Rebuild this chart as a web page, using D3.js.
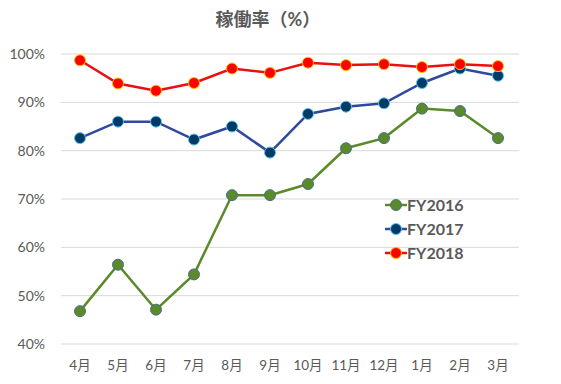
<!DOCTYPE html>
<html>
<head>
<meta charset="utf-8">
<script src="https://cdn.jsdelivr.net/npm/d3@7"></script>
<style>
  body { margin: 0; background: #fff; }
  text { font-family: Lato, "Noto Sans CJK JP", sans-serif; fill: #595959; }
</style>
</head>
<body>
<script>
'use strict';

const months = ["4月", "5月", "6月", "7月", "8月", "9月", "10月", "11月", "12月", "1月", "2月", "3月"]
const fy2016 = [46.8, 56.4, 47.1, 54.4, 70.8, 70.8, 73.1, 80.5, 82.6, 88.7, 88.2, 82.6]
const fy2017 = [82.6, 86.0, 86.0, 82.3, 85.0, 79.6, 87.6, 89.1, 89.8, 94.0, 97.0, 95.5]
const fy2018 = [98.7, 93.9, 92.4, 94.0, 97.0, 96.1, 98.2, 97.7, 97.9, 97.3, 97.9, 97.5]
const yTicks = [40, 50, 60, 70, 80, 90, 100]
const seriesNames = ["FY2016", "FY2017", "FY2018"]

const m = { width: 561, height: 384, left: 61, right: 517, top: 54, bottom: 344 }

const styles = {
  FY2016: { line: "#5a8a2a", fill: "#5a8a2a", stroke: "#4a6d8c" },
  FY2017: { line: "#2f4a9c", fill: "#003a66", stroke: "#5cc6ea" },
  FY2018: { line: "#e81010", fill: "#ff0000", stroke: "#ffc000" }
}

const svg = d3.select('body')
  .append('svg')
  .attr('width', m.width)
  .attr('height', m.height)

const x = d3.scaleBand()
  .domain(months)
  .range([m.left, m.right])

const y = d3.scaleLinear()
  .domain([40, 100])
  .range([m.bottom, m.top])

// gridlines
svg.append('g')
  .selectAll('line')
  .data(yTicks)
  .enter()
  .append('line')
    .attr('x1', m.left)
    .attr('x2', m.right + 2)
    .attr('y1', d => y(d))
    .attr('y2', d => y(d))
    .style('stroke', '#d9d9d9')
    .style('stroke-width', 1)

// y axis labels
const yAxis = d3.axisLeft(y).tickValues(yTicks).tickSize(0).tickPadding(16).tickFormat(d => d + '%')
svg.append('g')
  .attr('transform', 'translate(' + m.left + ',0)')
  .call(yAxis)
  .call(g => g.select('.domain').remove())
  .selectAll('text')
    .style('font-size', '14px')
    .style('fill', '#595959')

// x axis labels
const xAxis = d3.axisBottom(x).tickSize(0).tickPadding(16)
svg.append('g')
  .attr('transform', 'translate(0,' + m.bottom + ')')
  .call(xAxis)
  .call(g => g.select('.domain').remove())
  .selectAll('text')
    .style('font-size', '13.5px')
    .style('fill', '#595959')

// title
svg.append('text')
  .attr('x', 268)
  .attr('y', 26)
  .attr('text-anchor', 'middle')
  .style('font-size', '18px')
  .style('font-weight', 'bold')
  .text('稼働率（%）')

const cx = d => x(d) + x.bandwidth() / 2
const line = d3.line()
  .x(d => cx(d.m))
  .y(d => y(d.v))

const allSeries = [fy2016, fy2017, fy2018]

allSeries.forEach((vals, i) => {
  const name = seriesNames[i]
  const st = styles[name]
  const pts = months.map((mo, j) => ({ m: mo, v: vals[j] }))
  svg.append('path')
    .datum(pts)
    .attr('d', line)
    .style('fill', 'none')
    .style('stroke', st.line)
    .style('stroke-width', 2.5)
  svg.append('g')
    .selectAll('circle')
    .data(pts)
    .enter()
    .append('circle')
      .attr('cx', d => cx(d.m))
      .attr('cy', d => y(d.v))
      .attr('r', 5.5)
      .style('fill', st.fill)
      .style('stroke', st.stroke)
      .style('stroke-width', 1)
})

// legend
seriesNames.forEach((name, i) => {
  const st = styles[name]
  const ly = 205 + i * 24
  svg.append('line')
    .attr('x1', 385).attr('x2', 407)
    .attr('y1', ly).attr('y2', ly)
    .style('stroke', st.line)
    .style('stroke-width', 2.5)
  svg.append('circle')
    .attr('cx', 396).attr('cy', ly).attr('r', 5.5)
    .style('fill', st.fill)
    .style('stroke', st.stroke)
    .style('stroke-width', 1)
  svg.append('text')
    .attr('x', 407).attr('y', ly + 5.5)
    .style('font-size', '16px')
    .style('font-weight', 'bold')
    .text(name)
})
</script>
</body>
</html>
